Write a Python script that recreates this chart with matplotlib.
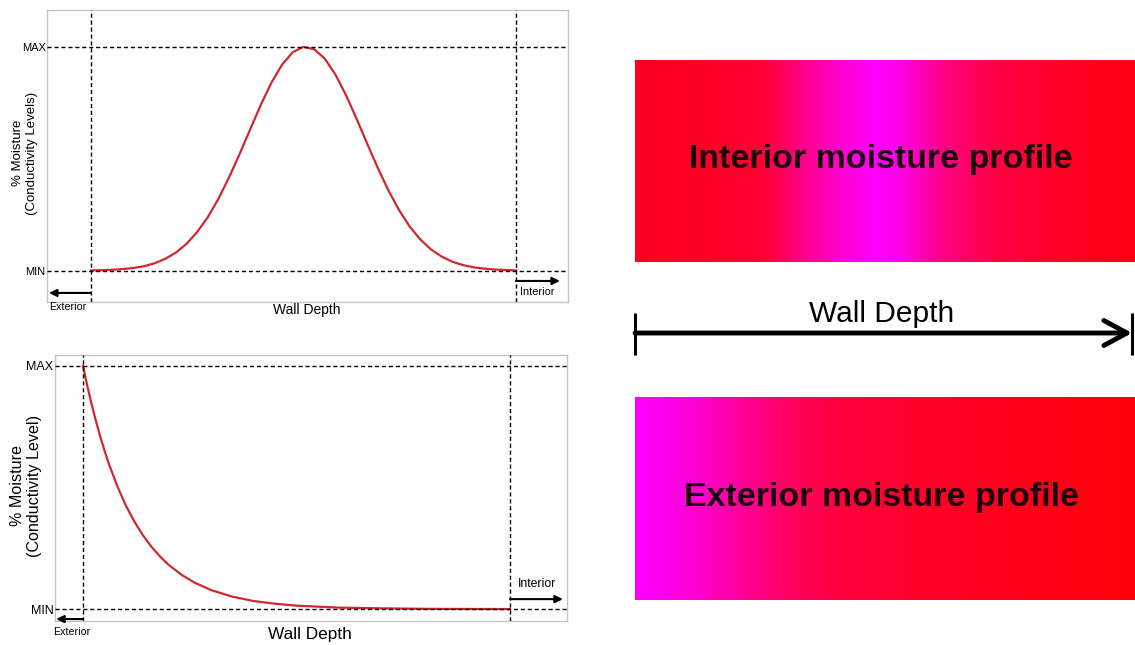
import numpy as np
import matplotlib.pyplot as plt
from matplotlib.colors import LinearSegmentedColormap

plt.rcParams["font.family"] = ["Liberation Sans", "DejaVu Sans"]

# ---- data (wall depth 0..1, moisture 0=MIN .. 1=MAX) ----
interior_x = [0.0, 0.025, 0.05, 0.075, 0.1, 0.125, 0.15, 0.175, 0.2, 0.225,
              0.25, 0.275, 0.3, 0.325, 0.35, 0.375, 0.4, 0.425, 0.45, 0.475,
              0.5, 0.525, 0.55, 0.575, 0.6, 0.625, 0.65, 0.675, 0.7, 0.725,
              0.75, 0.775, 0.8, 0.825, 0.85, 0.875, 0.9, 0.925, 0.95, 0.975, 1.0]
interior_y = [0.001, 0.002, 0.004, 0.007, 0.012, 0.020, 0.033, 0.053, 0.081, 0.120,
              0.173, 0.239, 0.321, 0.417, 0.522, 0.633, 0.742, 0.841, 0.921, 0.976,
              0.999, 0.989, 0.947, 0.876, 0.784, 0.678, 0.567, 0.458, 0.358, 0.270,
              0.197, 0.139, 0.095, 0.063, 0.040, 0.025, 0.015, 0.009, 0.005, 0.003, 0.001]

exterior_x = [0.0, 0.01, 0.02, 0.03, 0.04, 0.05, 0.06, 0.08, 0.10, 0.12, 0.14,
              0.16, 0.18, 0.20, 0.23, 0.26, 0.30, 0.35, 0.40, 0.45, 0.50,
              0.60, 0.70, 0.80, 1.0]
exterior_y = [1.0, 0.918, 0.844, 0.775, 0.712, 0.654, 0.600, 0.507, 0.427, 0.361, 0.304,
              0.257, 0.217, 0.183, 0.142, 0.110, 0.078, 0.051, 0.033, 0.022, 0.014,
              0.006, 0.003, 0.001, 0.0]

level_ticks = [0, 1]
level_labels = ["MIN", "MAX"]

# colour bands of the two profile bars (position across the wall, colour)
interior_stops = [(0.00, "#fa001e"), (0.25, "#ff0032"), (0.33, "#ff0082"),
                  (0.40, "#ff00c8"), (0.48, "#ff00ff"), (0.53, "#ff00e6"),
                  (0.62, "#ff0082"), (0.72, "#ff0046"), (0.84, "#ff0028"),
                  (1.00, "#ff0014")]
exterior_stops = [(0.00, "#ff00ff"), (0.05, "#fa00f0"), (0.12, "#ff00d2"),
                  (0.20, "#ff00a0"), (0.30, "#ff0064"), (0.42, "#ff003c"),
                  (0.60, "#ff0028"), (0.80, "#ff0019"), (1.00, "#ff000a")]

W, H = 1135, 645
fig = plt.figure(figsize=(W / 100, H / 100), dpi=100)


def px_axes(x0, y0, x1, y1):
    return fig.add_axes([x0 / W, 1 - y1 / H, (x1 - x0) / W, (y1 - y0) / H])


def px_text(x, y, s, **kw):
    fig.text(x / W, 1 - y / H, s, **kw)


dash = dict(color="black", lw=1.0, linestyle=(0, (3, 2)), zorder=3)
small_arrow = dict(arrowstyle="-|>,head_length=0.45,head_width=0.22",
                   lw=1.5, color="black", shrinkA=0, shrinkB=0)


def profile_axes(ax, x, y, xlim, ylim, tick_size):
    ax.plot(x, y, color="#cc2a2e", lw=1.6, zorder=2)
    for v in level_ticks:
        ax.axhline(v, **dash)
        ax.axvline(v, **dash)
    ax.set_xlim(xlim)
    ax.set_ylim(ylim)
    ax.set_xticks([])
    ax.set_yticks(level_ticks, level_labels, fontsize=tick_size)
    ax.tick_params(axis="y", length=0, pad=1)
    for spine in ax.spines.values():
        spine.set_color("#c4c4c4")
        spine.set_linewidth(1.0)


# =========================
# Top-left: interior moisture profile
# =========================
ax1 = px_axes(47, 10, 568, 302)
profile_axes(ax1, interior_x, interior_y, (-0.1035, 1.1224), (-0.140, 1.164), 8)
ax1.annotate("", xy=(-0.099, -0.0996), xytext=(0, -0.0996), arrowprops=small_arrow)
ax1.annotate("", xy=(1.1035, -0.046), xytext=(1, -0.046), arrowprops=small_arrow)
px_text(49, 307, "Exterior", fontsize=7.7, ha="left", va="center")
px_text(520, 292, "Interior", fontsize=7.9, ha="left", va="center")
px_text(307, 310, "Wall Depth", fontsize=10, ha="center", va="center")
px_text(25, 153, "% Moisture\n(Conductivity Levels)", fontsize=9.5, rotation=90,
        ha="center", va="center", multialignment="center", linespacing=1.15)

# =========================
# Bottom-left: exterior moisture profile
# =========================
ax2 = px_axes(55, 355, 567, 621)
profile_axes(ax2, exterior_x, exterior_y, (-0.0656, 1.1335), (-0.049, 1.045), 9)
ax2.annotate("", xy=(-0.063, -0.041), xytext=(0, -0.041), arrowprops=small_arrow)
ax2.annotate("", xy=(1.124, 0.041), xytext=(1, 0.041), arrowprops=small_arrow)
px_text(53, 632, "Exterior", fontsize=7.7, ha="left", va="center")
px_text(518, 584, "Interior", fontsize=8.8, ha="left", va="center")
px_text(310, 634, "Wall Depth", fontsize=12.4, ha="center", va="center")
px_text(26, 486, "% Moisture\n(Conductivity Level)", fontsize=11.6, rotation=90,
        ha="center", va="center", multialignment="center", linespacing=1.15)

# =========================
# Right: colour bars and wall-depth arrow
# =========================
depth = np.linspace(0, 1, 500)[np.newaxis, :]
for (y0, y1, stops, label) in [(60, 262, interior_stops, "Interior moisture profile"),
                               (397, 600, exterior_stops, "Exterior moisture profile")]:
    bx = px_axes(635, y0, 1135, y1)
    cmap = LinearSegmentedColormap.from_list("bar", stops)
    bx.imshow(depth, cmap=cmap, aspect="auto", extent=[0, 1, 0, 1], vmin=0, vmax=1)
    bx.text(0.492, 0.465, label, transform=bx.transAxes, fontsize=24.5,
            fontweight="bold", color="#1c0010", ha="center", va="baseline")
    bx.set_axis_off()

ax3 = px_axes(620, 300, 1135, 365)
ax3.set_xlim(-0.0302, 1.006)
ax3.set_ylim(-32, 33)
ax3.vlines([0, 1], -22, 20, color="black", lw=2.2)
ax3.annotate("", xy=(1, 0), xytext=(0, 0),
             arrowprops=dict(arrowstyle="->,head_length=1.66,head_width=0.9",
                             lw=3.5, color="black", shrinkA=0, shrinkB=0,
                             mutation_scale=10))
ax3.set_axis_off()
px_text(882, 322, "Wall Depth", fontsize=21.5, ha="center", va="baseline")

fig.savefig("out.png", dpi=100)
